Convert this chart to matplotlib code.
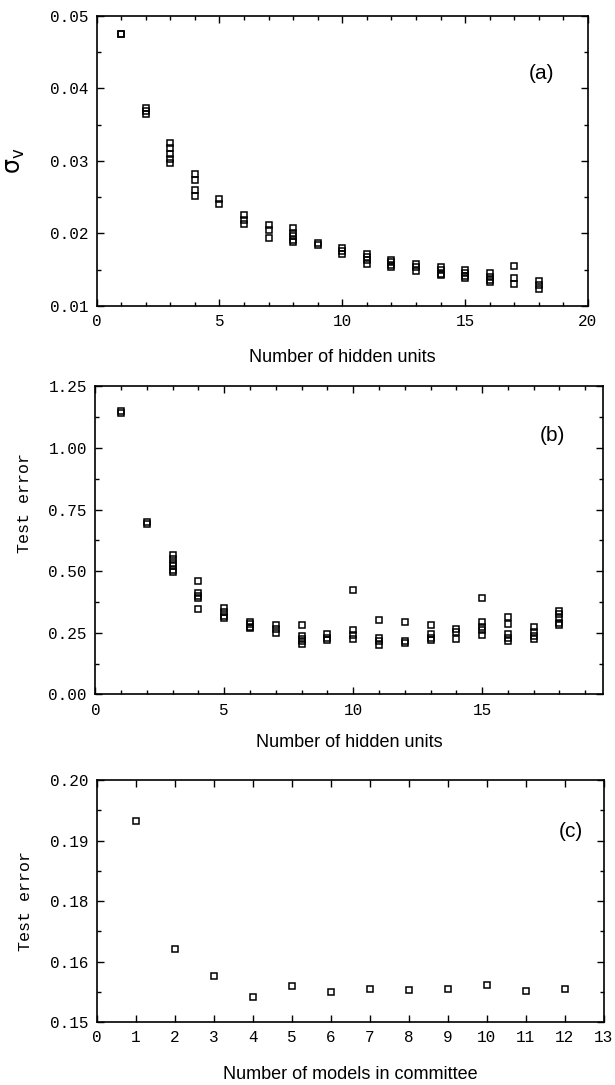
import numpy as np
import matplotlib
matplotlib.use('Agg')
import matplotlib.pyplot as plt
from matplotlib.ticker import MultipleLocator, FixedLocator

# panel (a): sigma_v versus number of hidden units
hidden_units = list(range(1, 19))
sigma_v = [
    [0.0474, 0.0475],
    [0.0373, 0.0369, 0.0365],
    [0.0324, 0.0317, 0.0310, 0.0303, 0.0297],
    [0.0282, 0.0274, 0.0260, 0.0252],
    [0.0248, 0.0240],
    [0.0226, 0.0219, 0.0213],
    [0.0211, 0.0204, 0.0193],
    [0.0207, 0.0201, 0.0196, 0.0191, 0.0188],
    [0.0187, 0.0184],
    [0.0180, 0.0176, 0.0172],
    [0.0172, 0.0168, 0.0163, 0.0158],
    [0.0164, 0.0161, 0.0157, 0.0153],
    [0.0158, 0.0153, 0.0148],
    [0.0154, 0.0149, 0.0144, 0.0142],
    [0.0149, 0.0145, 0.0141, 0.0138],
    [0.0145, 0.0140, 0.0136, 0.0133],
    [0.0155, 0.0138, 0.0130],
    [0.0134, 0.0129, 0.0124],
]

# panel (b): test error versus number of hidden units
test_error = [
    [1.14, 1.15],
    [0.69, 0.70],
    [0.565, 0.55, 0.535, 0.52, 0.505, 0.497],
    [0.46, 0.41, 0.40, 0.39, 0.345],
    [0.35, 0.335, 0.32, 0.31],
    [0.295, 0.285, 0.275, 0.27],
    [0.28, 0.265, 0.25],
    [0.28, 0.235, 0.225, 0.215, 0.205],
    [0.245, 0.23, 0.22],
    [0.425, 0.26, 0.24, 0.225],
    [0.30, 0.23, 0.215, 0.20],
    [0.295, 0.215, 0.21],
    [0.28, 0.245, 0.23, 0.22],
    [0.265, 0.255, 0.225],
    [0.39, 0.295, 0.275, 0.26, 0.24],
    [0.315, 0.285, 0.245, 0.23, 0.215],
    [0.275, 0.255, 0.235, 0.225],
    [0.34, 0.325, 0.31, 0.29, 0.28],
]

# panel (c): test error of committee
committee_size = list(range(1, 13))
committee_error = [0.1916, 0.1651, 0.1596, 0.1552, 0.1574, 0.1563,
                   0.1569, 0.1567, 0.1569, 0.1577, 0.1565, 0.1569]
c_yticks = [0.15, 0.1625, 0.175, 0.1875, 0.20]
c_yticklabels = ['0.15', '0.16', '0.18', '0.19', '0.20']

mono = 'Liberation Mono'
sans = 'Liberation Sans'
plt.rcParams['mathtext.fontset'] = 'dejavusans'

fig = plt.figure(figsize=(6.15, 10.85), dpi=100)
ax_a = fig.add_axes([0.157, 0.718, 0.799, 0.2676])
ax_b = fig.add_axes([0.155, 0.360, 0.826, 0.284])
ax_c = fig.add_axes([0.157, 0.058, 0.825, 0.223])

mk = dict(marker='s', markersize=4.4, markerfacecolor='none',
          markeredgecolor='black', markeredgewidth=1.1, linestyle='none')


def scatter_groups(ax, xs, groups):
    for x, ys in zip(xs, groups):
        ax.plot([x] * len(ys), ys, **mk)


def style(ax):
    for s in ax.spines.values():
        s.set_linewidth(1.2)
    ax.tick_params(which='both', direction='in', top=True, right=True,
                   width=1.0)
    ax.tick_params(which='major', length=5, pad=6)
    ax.tick_params(which='minor', length=3)
    for lab in ax.get_xticklabels() + ax.get_yticklabels():
        lab.set_family(mono)
        lab.set_fontsize(11.5)


scatter_groups(ax_a, hidden_units, sigma_v)
ax_a.set_xlim(0, 20)
ax_a.set_ylim(0.01, 0.05)
ax_a.xaxis.set_major_locator(MultipleLocator(5))
ax_a.xaxis.set_minor_locator(MultipleLocator(1))
ax_a.yaxis.set_minor_locator(MultipleLocator(0.005))
ax_a.set_yticks([0.01, 0.02, 0.03, 0.04, 0.05])
ax_a.set_yticklabels(['0.01', '0.02', '0.03', '0.04', '0.05'])
style(ax_a)
ax_a.set_xlabel('Number of hidden units', family=sans, fontsize=13, labelpad=14)
ax_a.set_ylabel(r'$\mathrm{\sigma_v}$', fontsize=17, labelpad=16)
ax_a.text(0.905, 0.80, '(a)', transform=ax_a.transAxes, family=sans,
          fontsize=15, ha='center', va='center')

scatter_groups(ax_b, hidden_units, test_error)
ax_b.set_xlim(0, 19.7)
ax_b.set_ylim(0, 1.25)
ax_b.xaxis.set_major_locator(MultipleLocator(5))
ax_b.xaxis.set_minor_locator(MultipleLocator(1))
ax_b.set_yticks([0, 0.25, 0.5, 0.75, 1.0, 1.25])
ax_b.set_yticklabels(['0.00', '0.25', '0.50', '0.75', '1.00', '1.25'])
ax_b.yaxis.set_minor_locator(MultipleLocator(0.125))
style(ax_b)
ax_b.set_xlabel('Number of hidden units', family=sans, fontsize=13, labelpad=12)
ax_b.set_ylabel('Test error', family=mono, fontsize=12, labelpad=12)
ax_b.yaxis.set_label_coords(-0.125, 0.62)
ax_b.text(0.90, 0.84, '(b)', transform=ax_b.transAxes, family=sans,
          fontsize=15, ha='center', va='center')

ax_c.plot(committee_size, committee_error, **mk)
ax_c.set_xlim(0, 13)
ax_c.set_ylim(0.15, 0.20)
ax_c.xaxis.set_major_locator(MultipleLocator(1))
ax_c.yaxis.set_major_locator(FixedLocator(c_yticks))
ax_c.set_yticklabels(c_yticklabels)
ax_c.yaxis.set_minor_locator(MultipleLocator(0.00625))
style(ax_c)
ax_c.tick_params(axis='x', which='minor', length=0)
ax_c.set_xlabel('Number of models in committee', family=sans, fontsize=13,
                labelpad=15)
ax_c.set_ylabel('Test error', family=mono, fontsize=12, labelpad=12)
ax_c.text(0.935, 0.787, '(c)', transform=ax_c.transAxes, family=sans,
          fontsize=15, ha='center', va='center')

fig.savefig('out.png', dpi=100)
